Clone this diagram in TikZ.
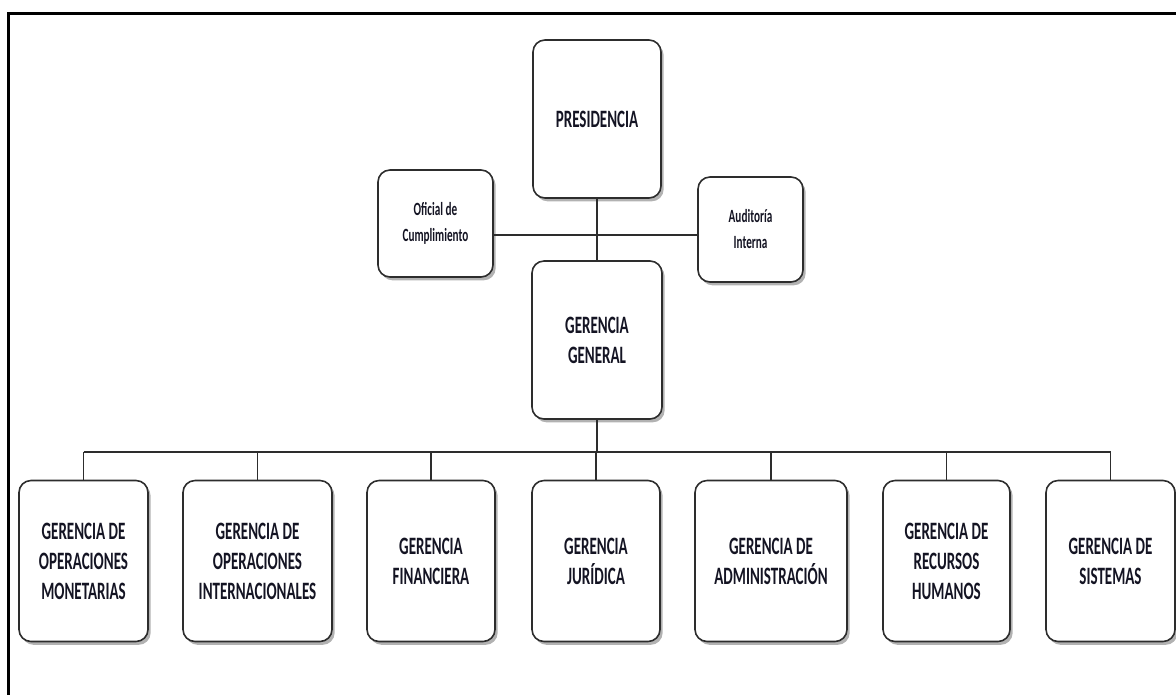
\documentclass[tikz,border=0pt]{standalone}
\usepackage{fontspec}
\usepackage{tikz}
\usetikzlibrary{shadows}
\newfontfamily\orgfont[FakeStretch=0.6]{Carlito}
\definecolor{boxline}{RGB}{45,45,45}
\definecolor{orgtext}{RGB}{20,20,35}
\tikzset{
    orgbox/.style={draw=boxline, line width=1.2pt, rounded corners=9pt, fill=white,
        align=center, inner sep=2pt, text=orgtext,
        drop shadow={shadow xshift=2pt, shadow yshift=-2.5pt, fill=black, opacity=0.3},
        font=\orgfont\bfseries\fontsize{18.75}{22.5}\selectfont},
    smallbox/.style={orgbox, font=\orgfont\bfseries\fontsize{14}{19.5}\selectfont},
    orgline/.style={draw=boxline, line width=1.1pt},
}

\begin{document}
\begin{tikzpicture}[x=0.75pt,y=0.75pt,yscale=-1,xscale=1]
        \useasboundingbox (0,0) rectangle (1176,694);

        %Frame
        \draw [line width=2.25pt, line cap=rect] (8,694) -- (8,13) -- (1176,13) ;

        % Top boxes
        \node (pres) at (597,119) [orgbox, minimum width=96pt, minimum height=118.5pt] {PRESIDENCIA};
        \node (ofic) at (435.5,223.5) [smallbox, minimum width=86.25pt, minimum height=80.25pt] {Oficial de\\Cumplimiento};
        \node (audi) at (750.5,229.5) [smallbox, minimum width=78.75pt, minimum height=78.75pt] {Auditoría\\Interna};
        \node (gg) at (597,340) [orgbox, minimum width=97.5pt, minimum height=118.5pt] {GERENCIA\\GENERAL};

        % Bottom row
        \node (monet) at (83.5,561) [orgbox, minimum width=96.75pt, minimum height=120.75pt] {GERENCIA DE\\OPERACIONES\\MONETARIAS};
        \node (inter) at (257.5,561) [orgbox, minimum width=111.75pt, minimum height=120.75pt] {GERENCIA DE\\OPERACIONES\\INTERNACIONALES};
        \node (finan) at (431,561) [orgbox, minimum width=96pt, minimum height=120.75pt] {GERENCIA\\FINANCIERA};
        \node (jurid) at (596,561) [orgbox, minimum width=96pt, minimum height=120.75pt] {GERENCIA\\JURÍDICA};
        \node (admin) at (771,561) [orgbox, minimum width=114pt, minimum height=120.75pt] {GERENCIA DE\\ADMINISTRACIÓN};
        \node (rrhh) at (946.5,561) [orgbox, minimum width=95.25pt, minimum height=120.75pt] {GERENCIA DE\\RECURSOS\\HUMANOS};
        \node (sist) at (1110.5,561) [orgbox, minimum width=96.75pt, minimum height=120.75pt] {GERENCIA DE\\SISTEMAS};

        \coordinate (cross) at (597,235);
        \coordinate (bus) at (597,452);

        %Straight Lines
        \draw [orgline] (pres.south) -- (gg.north) ;
        \draw [orgline] (ofic.east |- cross) -- (audi.west |- cross) ;
        \draw [orgline] (gg.south) -- (bus) ;
        \draw [orgline, line width=1.8pt] (monet.north |- bus) -- (sist.north |- bus) ;
        \foreach \n in {monet,inter,finan,jurid,admin,rrhh,sist}
            \draw [orgline] (\n.north |- bus) -- (\n.north) ;
\end{tikzpicture}
\end{document}
